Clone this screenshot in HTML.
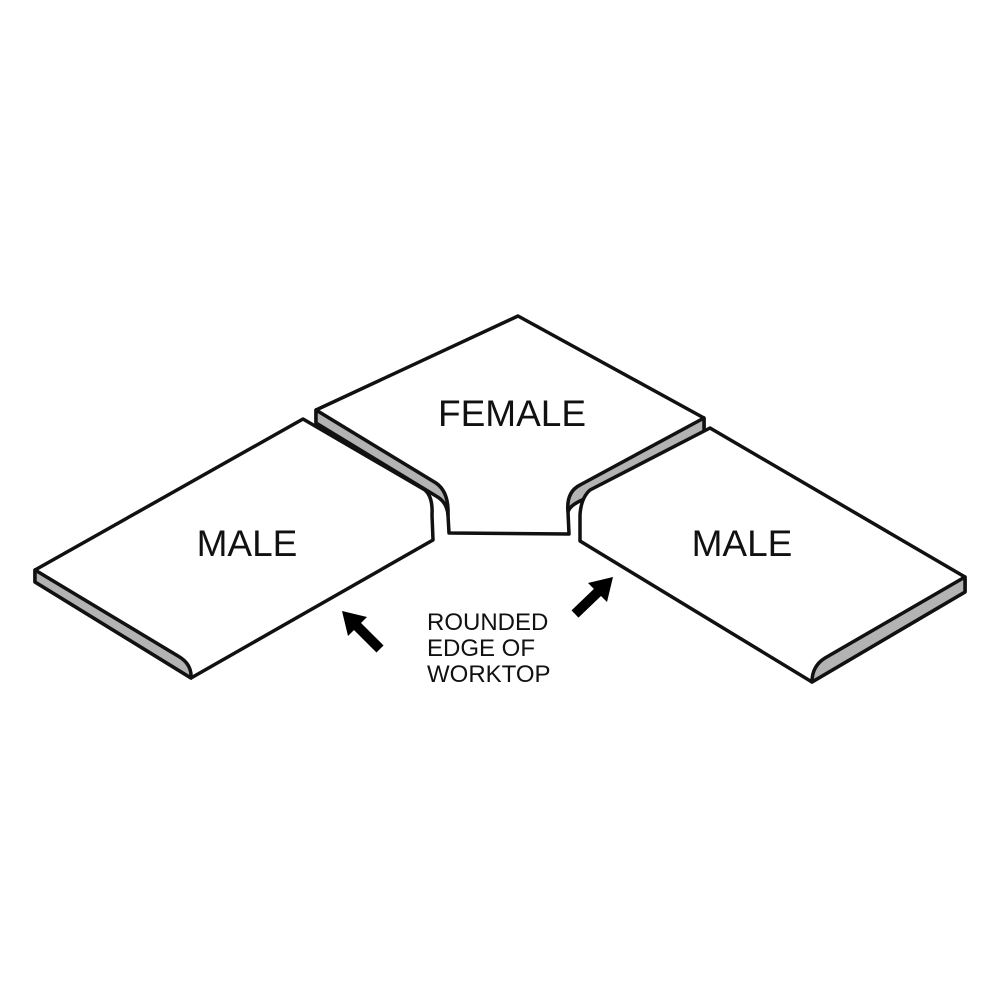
<!DOCTYPE html>
<html><head><style>body{margin:0;background:#fff}svg{display:block}</style></head><body>
<svg width="1000" height="1000" viewBox="0 0 1000 1000" xmlns="http://www.w3.org/2000/svg">
<g stroke="#111" stroke-width="3.5" stroke-linejoin="round" fill="#fff">
<!-- Female -->
<path d="M316,410 L518,316 L704,418 L704,432 L583,498 Q570,505 568,512 L569,534 L449,533 L448,515 Q447,500 440,494 L316,423 Z"/>
<path d="M316,410 L316,423 L436,496 Q447,502 448,515 Q449,492 436,483 Z" fill="#b3b3b3"/>
<path d="M704,418 L704,432 L582,500 Q569,506 568,512 Q566,492 580,485 Z" fill="#b3b3b3"/>
<!-- Left male -->
<path d="M35,570 L303,419 L425,490 Q433,497 432,515 L433,540 L191,678 L35,582 Z"/>
<path d="M35,570 L35,582 L191,678 Q192,664 178,656 Z" fill="#b3b3b3"/>
<!-- Right male -->
<path d="M710,428 L965,577 L965,592 L812,682 L580,541 L580,515 Q581,498 590,490 Z"/>
<path d="M965,577 L965,592 L812,682 Q812,666 825,658 Z" fill="#b3b3b3"/>
</g>
<g fill="#000" stroke="#000">
<line x1="380" y1="649" x2="355" y2="624" stroke-width="10"/>
<polygon points="342,611 367,617 348,636" stroke="none"/>
<line x1="575" y1="614" x2="600" y2="590" stroke-width="10"/>
<polygon points="613,577 607,602 588,583" stroke="none"/>
</g>
<g font-family="Liberation Sans, sans-serif" fill="#111">
<text x="247" y="556" font-size="37" text-anchor="middle">MALE</text>
<text x="512" y="426" font-size="37" text-anchor="middle">FEMALE</text>
<text x="742" y="556" font-size="37" text-anchor="middle">MALE</text>
<text x="427" y="630" font-size="24">ROUNDED</text>
<text x="427" y="656" font-size="24">EDGE OF</text>
<text x="427" y="682" font-size="24">WORKTOP</text>
</g>
</svg>
</body></html>
